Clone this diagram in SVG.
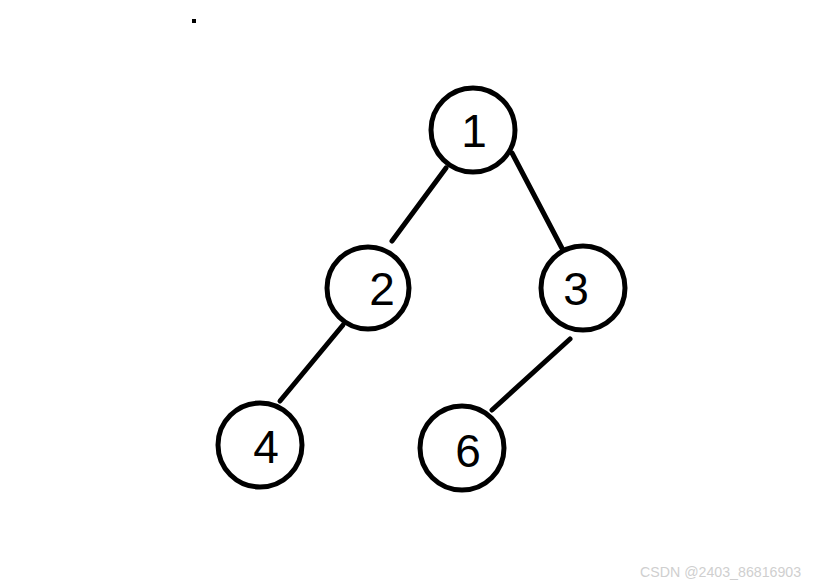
<svg xmlns="http://www.w3.org/2000/svg" width="832" height="588" viewBox="0 0 832 588">
<style>
.n{fill:#fff;stroke:#000;stroke-width:5}
.e{stroke:#000;stroke-width:5;stroke-linecap:round;fill:none}
.t{font-family:"Liberation Sans",Arial,sans-serif;font-size:46px;fill:#000;text-anchor:middle}
.w{font-family:"Liberation Sans",Arial,sans-serif;font-size:14.2px;fill:#cfcfcf}
</style>
<rect width="832" height="588" fill="#fff"/>
<rect x="192" y="19" width="4" height="4" fill="#000"/>
<g id="connectors">
<line class="e" x1="446" y1="168" x2="392" y2="241"/>
<line class="e" x1="512" y1="153" x2="565" y2="254"/>
<line class="e" x1="343" y1="325" x2="280" y2="401"/>
<line class="e" x1="570" y1="339" x2="492" y2="410"/>
</g>
<g id="node1"><circle class="n" cx="473" cy="130" r="42"/><text class="t" x="474" y="147">1</text></g>
<g id="node2"><circle class="n" cx="368" cy="288" r="41"/><text class="t" x="382" y="305">2</text></g>
<g id="node3"><circle class="n" cx="583" cy="288" r="42"/><text class="t" x="576" y="305">3</text></g>
<g id="node4"><circle class="n" cx="260" cy="445" r="42"/><text class="t" x="266" y="463">4</text></g>
<g id="node6"><circle class="n" cx="462" cy="448" r="42"/><text class="t" x="468" y="467">6</text></g>
<text class="w" x="640" y="577">CSDN @2403_86816903</text>
</svg>
